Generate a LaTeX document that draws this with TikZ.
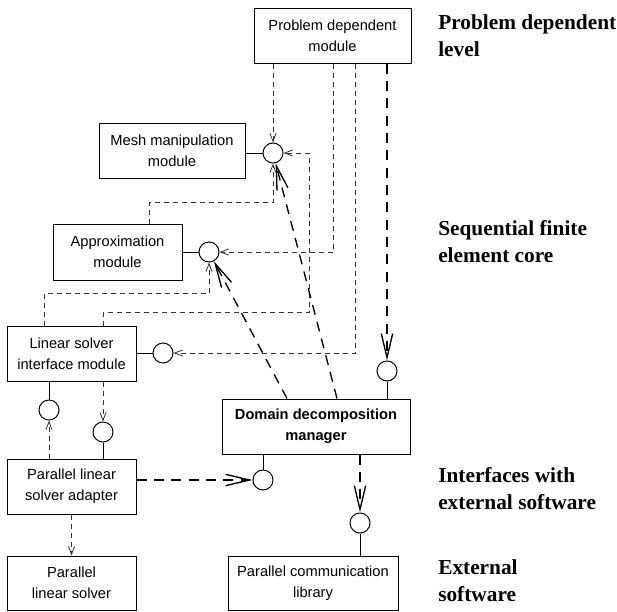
\documentclass[tikz,border=0pt]{standalone}
\usepackage{fontspec}
\setmainfont{Liberation Serif}
\setsansfont{Liberation Sans}
\usetikzlibrary{arrows.meta}
\tikzset{
  box/.style={draw, line width=0.75pt, font=\sffamily\fontsize{11}{15.5}\selectfont, align=center, inner sep=0pt},
  sz/.style 2 args={minimum width=#1*0.75pt, minimum height=#2*0.75pt},
  iface/.style={circle, draw, line width=0.75pt, minimum size=15pt, inner sep=0pt},
  link/.style={draw, line width=0.75pt},
  dep/.style={draw=black!80, line width=0.6pt, dash pattern=on 3.75pt off 3pt, -{Straight Barb[length=6pt,width=4.5pt]}},
  big/.style={draw, line width=1pt, dash pattern=on 7.5pt off 5.5pt, -{Straight Barb[length=18pt,width=8.5pt]}},
  lbl/.style={font=\rmfamily\bfseries\fontsize{16}{20}\selectfont, align=left, anchor=base west, inner sep=0pt}
}
\begin{document}
\begin{tikzpicture}[x=0.75pt,y=-0.75pt]
\useasboundingbox (0,0) rectangle (617,611);
% boxes
\node[box, sz={157}{55}] (pdm) at (332.5,35.5) {Problem dependent\\module};
\node[box, sz={146}{55}] (mesh) at (172,150.5) {Mesh manipulation\\module};
\node[box, sz={129}{56}] (approx) at (117.5,252) {Approximation\\module};
\node[box, sz={129}{55}] (lsi) at (71.5,353.5) {Linear solver\\interface module};
\node[box, sz={188}{55}, font=\sffamily\bfseries\fontsize{11}{15.5}\selectfont] (ddm) at (316,426.5) {Domain decomposition\\manager};
\node[box, sz={129}{55}] (adapter) at (71.5,486.5) {Parallel linear\\solver adapter};
\node[box, sz={129}{54}] (pls) at (71.5,583) {Parallel\\linear solver};
\node[box, sz={170}{54}] (pcl) at (313,583) {Parallel communication\\library};
% interface circles
\node[iface] (c1) at (273,153) {};
\node[iface] (c2) at (209,252) {};
\node[iface] (c3) at (163,353) {};
\node[iface] (c4) at (387,371) {};
\node[iface] (c5) at (49,410) {};
\node[iface] (c6) at (103,432) {};
\node[iface] (c7) at (263,480) {};
\node[iface] (c8) at (360,523) {};
% level labels (anchored at the baseline of the last line)
\node[lbl] (l1) at (438,56) {Problem dependent\\level};
\node[lbl] (l2) at (438,262) {Sequential finite\\element core};
\node[lbl] (l3) at (438,509) {Interfaces with\\external software};
\node[lbl] (l4) at (438,601) {External\\software};
% helper coordinates
\coordinate (x2) at (333,0);
\coordinate (x3) at (355,0);
\coordinate (k1) at (309,312);
\coordinate (k2) at (149,202);
\coordinate (k3) at (44,293);
\coordinate (k4) at (337,0);
\coordinate (k5) at (287,0);
% solid links to interfaces
\draw[link] (c1.west) -- (c1.west -| mesh.east);
\draw[link] (c2.west) -- (c2.west -| approx.east);
\draw[link] (c3.west) -- (c3.west -| lsi.east);
\draw[link] (c4.south) -- (c4.south |- ddm.north);
\draw[link] (c5.north) -- (c5.north |- lsi.south);
\draw[link] (c6.south) -- (c6.south |- adapter.north);
\draw[link] (c7.north) -- (c7.north |- ddm.south);
\draw[link] (c8.south) -- (c8.south |- pcl.north);
% dependencies
\draw[dep] (pdm.south -| c1) -- (c1.north);
\draw[dep] (pdm.south -| x2) |- (c2.east);
\draw[dep] (pdm.south -| x3) |- (c3.east);
\draw[big] (pdm.south -| c4) -- (c4.north);
\draw[dep] (lsi.north -| c6) |- (k1) |- (c1.east);
\draw[dep] (approx.north -| k2) -- (k2) -| (c1.south);
\draw[dep] (lsi.north -| k3) -- (k3) -| (c2.south);
\draw[big] (ddm.north -| k4) -- (c1);
\draw[big] (ddm.north -| k5) -- (c2);
\draw[dep] (adapter.north -| c5) -- (c5.south);
\draw[dep] (lsi.south -| c6) -- (c6.north);
\draw[big] (adapter.east |- c7) -- (c7.west);
\draw[dep] (adapter.south) -- (pls.north);
\draw[big] (ddm.south -| c8) -- (c8.north);
\end{tikzpicture}
\end{document}
